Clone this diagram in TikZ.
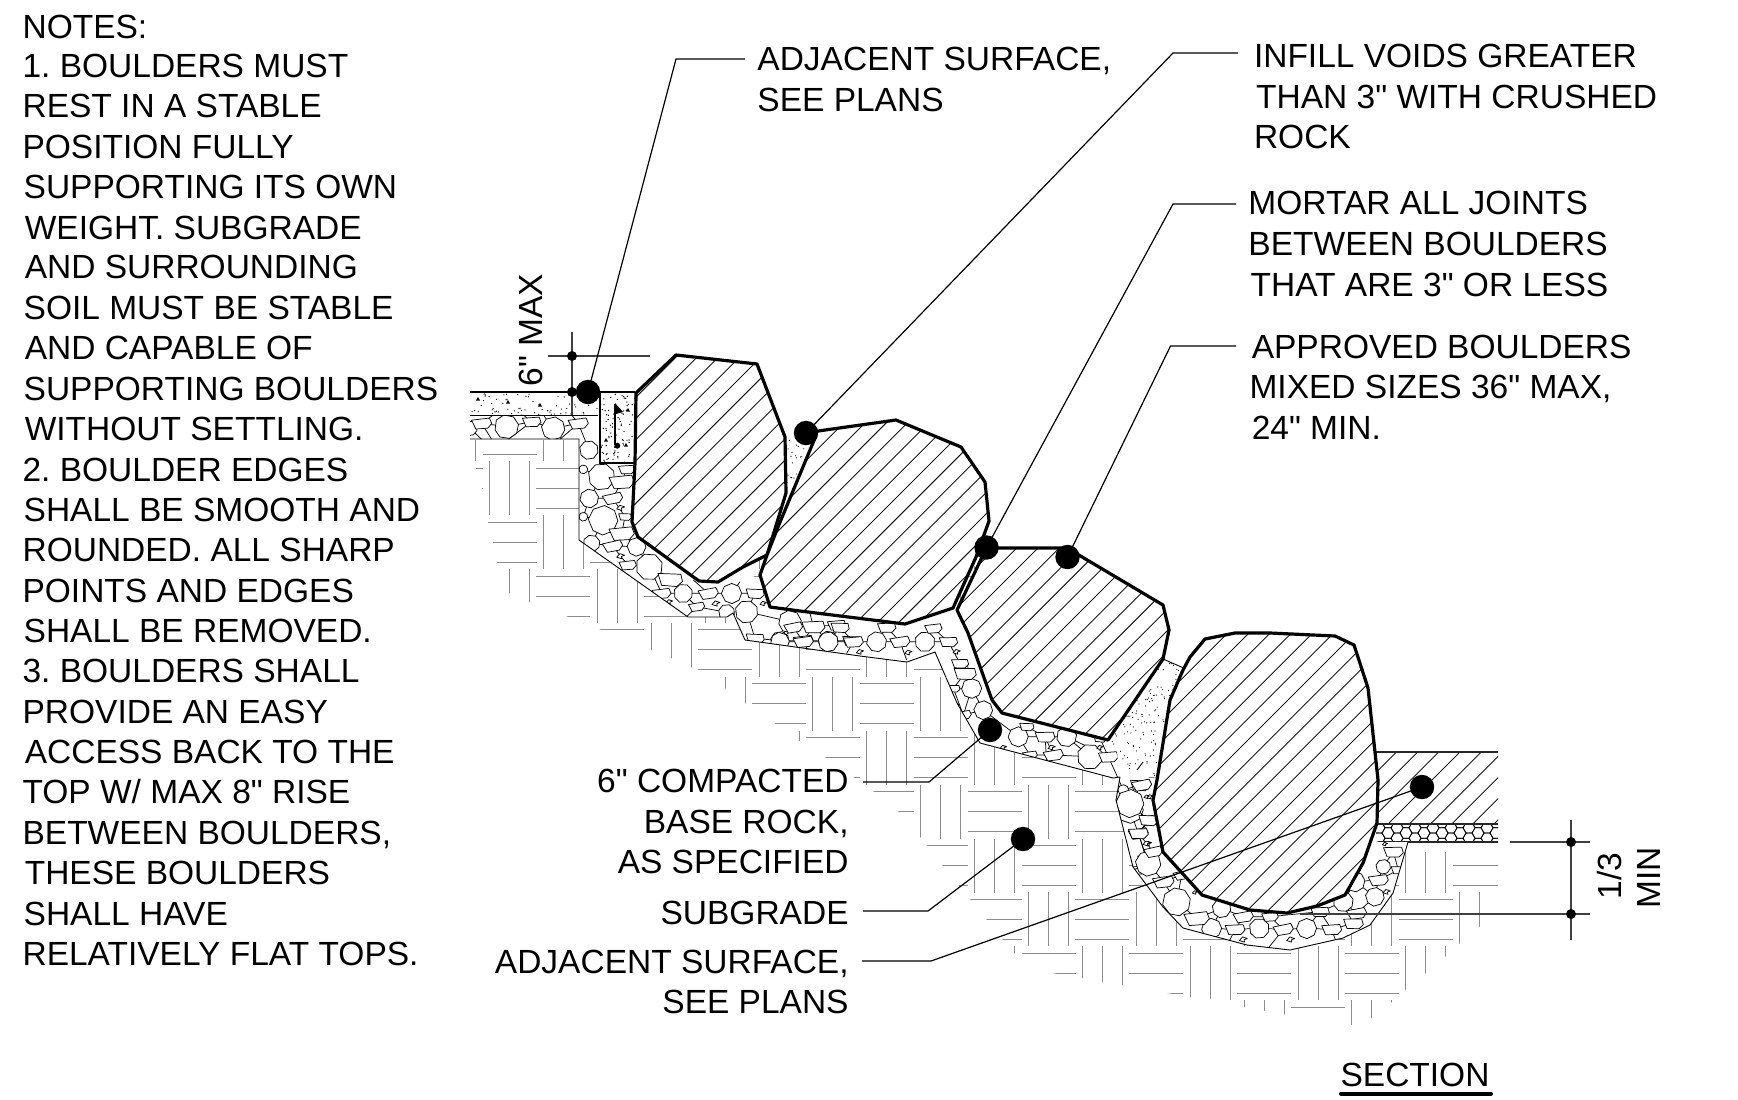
\documentclass[tikz,border=0pt]{standalone}
\usepackage{fontspec}
\newfontfamily\labf{Liberation Sans}
\newcommand\bAp{(636,393)--(676,355)--(757,364)--(785,437)--(786,493)--(767,555)--(743,567)--(718,582)--(699,581)--(638,537)--(632,522)--(635,463)--cycle}
\newcommand\bBp{(811,432)--(896,420)--(961,447)--(985,482)--(989,521)--(976,557)--(953,608)--(905,624)--(800,611)--(770,607)--(760,575)--(767,555)--(778,527)--(815,438)--cycle}
\newcommand\bCp{(986,548)--(1067,548)--(1163,605)--(1169,630)--(1163,659)--(1108,740)--(1002,713)--(992,700)--(968,633)--(957,610)--(983,555)--cycle}
\newcommand\bDp{(1205,639)--(1235,633)--(1270,633)--(1335,636)--(1354,645)--(1368,688)--(1378,780)--(1377,823)--(1363,863)--(1345,895)--(1317,906)--(1287,913)--(1250,910)--(1202,895)--(1163,852)--(1153,800)--(1157,780)--(1170,700)--(1183,670)--(1190,657)--cycle}
\newcommand\gvOuter{(470,439)--(579,439)--(579,540)--(688,617)--(727,617)--(733,613)--(745,640)--(860,656)--(907,662)--(935,652)--(957,703)--(980,743)--(1113,778)--(1120,777)--(1116,800)--(1133,867)--(1163,907)--(1183,928)--(1247,945)--(1290,950)--(1343,938)--(1370,925)--(1393,893)--(1408,842)}
\newcommand\gvFull{\gvOuter--(1378,842)--(1300,800)--(1160,790)--(1110,735)--(1010,710)--(965,620)--(900,560)--(770,600)--(700,500)--(640,470)--(635,463)--(600,463)--(598,415)--(470,415)--cycle}
\newcommand\mortarp{(1163,659)--(1186,669)--(1172,693)--(1170,710)--(1155,778)--(1143,762)--(1120,777)--(1117,752)--(1108,740)--cycle}
\newcommand\wedgep{(785,438)--(806,436)--(813,447)--(787,515)--cycle}
\newcommand\stripp{(983,555)--(989,552)--(960,611)--(956,608)--cycle}
\newcommand\bldrdraw[2]{%
  \fill[white] #1;
  \begin{scope}\clip #1;
    \foreach \k in {-75,...,75}{\pgfmathsetmacro\hv{#2+21.2*\k}\draw[hatchline] (\hv,0)--(0,\hv);}
  \end{scope}
  \draw[bldr] #1;}
\newcommand\cR[3]{\draw[cob,shift={(#1,#2)},rotate={mod(#1+#2,60)},scale=#3] (1,0)--(.72,.68)--(.05,1)--(-.7,.75)--(-1,.1)--(-.75,-.7)--(-.05,-1)--(.7,-.7)--cycle;}
\newcommand\cF[3]{\draw[cob,shift={(#1,#2)},rotate={mod(#1,17)-8},scale=#3] (-1,-.35)--(.8,-.5)--(1,.05)--(.6,.5)--(-.6,.55)--cycle;}
\newcommand\cT[3]{\draw[cob,shift={(#1,#2)},scale=#3] (-1,.3)--(-.2,-.6)--(1,-.2)--(.2,.1)--(.3,.7)--cycle;}
\newcommand\stip[6]{\foreach \k in {1,...,#1}{\fill[black] ({#2+rnd*#4},{#3+rnd*#5}) circle[radius=#6];}}
\newcommand\tri[2]{\fill[black] (#1-2,#2+1.5)--(#1,#2-2)--(#1+2,#2+1.5)--cycle;}
\tikzset{
  lab/.style={font=\labf\fontsize{16.75}{20}\selectfont\frenchspacing,inner sep=0pt,text=black},
  dotbig/.style={circle,fill=black,inner sep=0pt,minimum size=12.2pt},
  dotsmall/.style={circle,fill=black,inner sep=0pt,minimum size=5pt},
  leader/.style={draw=black,line width=.6pt},
  dimline/.style={draw=black!75,line width=.55pt},
  tile/.style={draw=black!45,line width=.5pt},
  hatchline/.style={draw=black!90,line width=.45pt},
  bldr/.style={draw=black,line width=1.6pt,line join=round},
  cob/.style={draw=black,line width=.36pt,fill=white,line join=round},
  web/.style={draw=black,line width=.36pt,line join=round},
  edge/.style={draw=black,line width=.45pt},
  heavy/.style={draw=black!85,line width=.7pt},
}
\begin{document}
\begin{tikzpicture}[x=.5pt,y=-.5pt]
\useasboundingbox (0,0) rectangle (1738,1099);
\fill[white] (0,0) rectangle (1738,1099);
% subgrade basket weave
\begin{scope}
\clip (474,440)--(474,462)--(476,468)--(482,488)--(488,522)--(493,542)--(497,562)--(509,593)--(529,602)--(566,616)--(583,623)--(599,629)--(651,650)--(671,658)--(691,667)--(699,670)--(725,688)--(745,703)--(776,724)--(798,740)--(825,757)--(873,791)--(899,812)--(927,845)--(943,866)--(970,899)--(987,920)--(1003,940)--(1014,953)--(1052,973)--(1082,978)--(1102,982)--(1122,985)--(1167,993)--(1190,997)--(1230,1000)--(1243,1007)--(1283,1014)--(1352,1025)--(1372,1018)--(1392,1002)--(1405,990)--(1426,973)--(1446,956)--(1459,944)--(1479,927)--(1498,910)--(1498,852)--(1405,852)--(1370,845)--(1360,760)--(1300,700)--(1180,700)--(1160,640)--(1050,600)--(960,560)--(800,540)--(700,500)--(640,470)--(600,440)--cycle;
\foreach \i in {-14,...,6}{\foreach \j in {-10,...,1}{
  \pgfmathsetmacro\cx{1156.3+53.9*\i}
  \pgfmathsetmacro\cy{973.3+53.9*\j}
  \pgfmathtruncatemacro\oddv{mod(\i+\j+100,2)}
  \ifnum\oddv=0
    \draw[tile] (\cx-27,\cy-20)--(\cx+27,\cy-20) (\cx-27,\cy)--(\cx+27,\cy) (\cx-27,\cy+20)--(\cx+27,\cy+20);
  \else
    \draw[tile] (\cx-20,\cy-27)--(\cx-20,\cy+27) (\cx,\cy-27)--(\cx,\cy+27) (\cx+20,\cy-27)--(\cx+20,\cy+27);
  \fi
}}
\end{scope}
% right adjacent surface
\begin{scope}
\clip (1376,752) rectangle (1498,824);
\foreach \k in {-20,...,20}{\pgfmathsetmacro\hv{2148.4+21.2*\k}\draw[hatchline] (\hv,0)--(0,\hv);}
\end{scope}
\begin{scope}
\clip (1376,824) rectangle (1498,842);
\foreach \ha in {0,...,14}{\foreach \hb in {0,...,2}{
  \pgfmathsetmacro\px{1379+9*\ha}
  \pgfmathtruncatemacro\pty{mod(\ha,2)}
  \pgfmathsetmacro\py{\pty==0 ? 827.8+10.4*\hb : 822.6+10.4*\hb}
  \draw[edge,line width=.38pt] (\px-6,\py)--(\px-3,\py-5.2)--(\px+3,\py-5.2)--(\px+6,\py)--(\px+3,\py+5.2)--(\px-3,\py+5.2)--cycle;
}}
\end{scope}
\draw[heavy] (1376,752)--(1498,752);
\draw[heavy] (1376,824)--(1498,824);
\draw[heavy] (1376,842)--(1498,842);
% gravel
\fill[white] \gvFull;
\begin{scope}
\clip \gvFull;
\begin{scope}[shift={(450,320)},scale=.33333]
\draw[web] (60,325)--(95,310)--(170,320)--(245,305)--(310,325)--(385,310)--(417,390) (95,310)--(130,285) (95,310)--(125,358) (245,305)--(220,285) (245,305)--(175,358) (385,310)--(365,285) (385,310)--(330,358) (60,325)--(95,358) (310,325)--(280,285);
\foreach \pa/\pb/\pc in {170/320/36,310/325/35,417/390/28,60/325/22}{\cR{\pa}{\pb}{\pc}}
\foreach \pa/\pb/\pc in {95/310/30,245/305/28,385/310/30}{\cF{\pa}{\pb}{\pc}}
\end{scope}
\begin{scope}[shift={(460,430)},scale=.33333]
\draw[web] (370,118)--(425,140)--(388,205)--(370,260)--(430,270)--(395,340)--(458,348)--(530,350)--(568,410)--(503,405)--(458,348)
 (425,140)--(485,155)--(500,118) (485,155)--(458,205)--(388,205) (458,205)--(495,260)--(485,310)--(430,270) (485,310)--(530,350)
 (568,410)--(630,448)--(670,490)--(605,490)--(568,410) (670,490)--(745,490)--(815,490)--(885,490)--(860,545)--(800,547)--(710,530)--(670,490)
 (815,490)--(840,455) (885,490)--(930,470) (745,490)--(700,450) (860,545)--(885,625)--(960,632)--(990,575)--(860,545) (990,575)--(1060,590)--(1130,585)
 (1030,632)--(960,632) (1030,632)--(1060,590) (1030,632)--(1105,632)--(1175,632) (1105,632)--(1060,590) (990,575)--(985,540) (1060,590)--(1050,550) (605,490)--(590,520) (710,530)--(680,560) (885,625)--(870,630);
\foreach \pa/\pb/\pc in {425/140/40,388/205/28,430/270/44,370/260/13,370/118/13,568/410/40,670/490/28,815/490/30,530/350/28,395/340/25,860/545/34,990/575/34,1105/632/29,960/632/28,800/547/24}{\cR{\pa}{\pb}{\pc}}
\foreach \pa/\pb/\pc in {458/205/30,485/155/38,500/118/25,495/260/20,485/310/38,458/348/30,503/405/26,745/490/30,885/490/28,605/490/28,630/448/38,1060/590/35,1030/632/30,1175/632/28,885/625/28,1130/585/28,710/530/24}{\cF{\pa}{\pb}{\pc}}
\foreach \pa/\pb/\pc in {482/233/12,482/378/12,768/520/12,910/520/10,628/515/10}{\cT{\pa}{\pb}{\pc}}
\end{scope}
\begin{scope}[shift={(760,620)},scale=.33333]
\draw[web] (60,65)--(130,65)--(205,65)--(280,65)--(350,65)--(420,65)--(495,65)--(565,65)--(600,130)--(635,205)--(610,285)--(670,270)--(635,205)
 (100,22)--(130,65) (100,22)--(60,65) (240,22)--(205,65) (240,22)--(280,65) (380,22)--(350,65) (380,22)--(420,65) (520,25)--(495,65) (520,25)--(565,65) (605,140)--(565,65) (580,205)--(635,205) (580,205)--(615,160) (610,285)--(580,205)
 (670,270)--(775,350)--(855,350)--(920,350)--(1045,410)--(990,410)--(880,405)--(810,405)--(775,350) (800,320)--(775,350) (800,320)--(855,350) (950,315)--(920,350) (950,315)--(1020,355) (1020,355)--(1045,410) (880,405)--(855,350) (990,410)--(920,350)
 (1045,410)--(1090,510)--(1140,495)--(1110,570)--(1090,510) (1110,570)--(1170,600)--(1135,640)--(1110,570) (1135,640)--(1160,720)--(1130,750) (130,65)--(150,100) (280,65)--(260,100) (420,65)--(440,120) (855,350)--(860,420) (205,65)--(180,100);
\foreach \pa/\pb/\pc in {60/65/28,205/65/30,350/65/30,495/65/30,635/205/30,670/270/28,775/350/30,920/350/30,990/410/38,1110/570/40,1090/510/16,605/140/20}{\cR{\pa}{\pb}{\pc}}
\foreach \pa/\pb/\pc in {130/65/30,280/65/30,420/65/30,565/65/28,600/130/26,615/160/34,580/205/20,610/285/24,855/350/30,880/405/30,1045/410/30,1140/495/30,1135/640/30,1170/600/28,1160/720/28,1130/750/24,100/22/28,240/22/28,380/22/28,520/25/26,800/320/22,950/315/22,1020/355/20,810/405/22}{\cF{\pa}{\pb}{\pc}}
\foreach \pa/\pb/\pc in {300/95/11,445/97/11,590/95/11,590/255/8,875/382/11,1020/382/10,730/382/10,1165/670/10,1170/530/10}{\cT{\pa}{\pb}{\pc}}
\end{scope}
\begin{scope}[shift={(1080,720)},scale=.33333]
\draw[web] (185,195)--(150,250)--(205,300)--(175,340)--(220,395)--(205,430)--(250,485)--(290,545)--(350,595)--(395,625)--(465,628)--(538,625)--(610,628)--(680,625)--(755,628)--(820,610)--(830,580)--(885,530)--(895,480)--(955,450)--(940,395)--(910,440)--(895,480)
 (305,465)--(290,545) (305,465)--(250,485) (350,595)--(425,565)--(395,625) (425,565)--(490,590)--(465,628) (490,590)--(570,590)--(538,625) (570,590)--(610,628) (570,590)--(720,575)--(680,625) (720,575)--(755,628) (720,575)--(790,545)--(830,580) (790,545)--(825,485)--(895,480) (825,485)--(885,530) (205,430)--(175,340) (150,250)--(110,240) (465,628)--(440,680) (610,628)--(560,690) (755,628)--(770,670) (290,545)--(250,590) (205,430)--(160,450);
\foreach \pa/\pb/\pc in {150/250/42,205/430/38,290/545/42,395/625/30,538/625/30,680/625/30,790/545/30,825/485/30,885/530/28,425/565/28,910/440/22}{\cR{\pa}{\pb}{\pc}}
\foreach \pa/\pb/\pc in {185/195/30,205/300/30,175/340/30,220/395/28,250/485/32,350/595/38,465/628/30,610/628/30,755/628/30,490/590/30,570/590/25,720/575/28,830/580/30,895/480/30,820/610/30,940/395/30,955/450/22,305/465/25}{\cF{\pa}{\pb}{\pc}}
\foreach \pa/\pb/\pc in {200/370/11,490/658/12,632/658/12,920/515/11,915/372/8,345/517/8,200/230/8}{\cT{\pa}{\pb}{\pc}}
\end{scope}
\end{scope}
\draw[edge] \gvOuter;
\draw[edge] (470,415)--(598,415);
% concrete and mortar
\pgfmathsetseed{17}
\begin{scope}
\clip (470,393) rectangle (600,415);
\stip{70}{470}{393}{130}{22}{.65}
\tri{478}{399}\tri{508}{402}\tri{540}{405}
\end{scope}
\fill[white] (600,392) rectangle (635,463);
\begin{scope}
\clip (600,392) rectangle (635,463);
\stip{90}{600}{392}{35}{71}{.7}
\tri{606}{440}\tri{628}{410}\tri{626}{445}
\end{scope}
\draw[black,line width=.55pt] (600,392)--(600,463)--(635,463);
\draw[black,line width=.7pt] (470,392)--(635,392);
\draw[black,line width=.9pt] (615,404)--(615,445);
\fill[black] (615,403)--(623,412)--(616,414)--cycle;
\fill[black] (617.3,445.7) circle[radius=3];
\fill[white] \mortarp;
\begin{scope}
\clip \mortarp;
\stip{240}{1108}{659}{78}{119}{.6}
\end{scope}
\draw[edge] (1163,659)--(1186,669);
\draw[edge] (1143,762)--(1137,770);
\fill[white] \wedgep;
\begin{scope}
\clip \wedgep;
\stip{50}{785}{436}{28}{79}{.6}
\end{scope}
\fill[white] \stripp;
\begin{scope}
\clip \stripp;
\stip{18}{955}{552}{34}{60}{.5}
\end{scope}
% boulders
\bldrdraw{\bAp}{1054.3}
\bldrdraw{\bBp}{1266.7}
\bldrdraw{\bCp}{1692}
\bldrdraw{\bDp}{1945.6}
% dimensions
\draw[dimline] (548,356)--(650,356);
\draw[dimline] (572,332)--(572,415);
\draw[dimline] (1300,914)--(1590,914);
\draw[dimline] (1510,842)--(1590,842);
\draw[dimline] (1571,820)--(1571,940);
\node[dotsmall] (ds1) at (572,356) {};
\node[dotsmall] (ds2) at (572,392) {};
\node[dotsmall] (ds3) at (1571,842) {};
\node[dotsmall] (ds4) at (1571,914) {};
% leader dots
\node[dotbig] (d1) at (588,392) {};
\node[dotbig] (d2) at (806,433) {};
\node[dotbig] (d3) at (986.5,547.5) {};
\node[dotbig] (d4) at (1067.5,557) {};
\node[dotbig] (d5) at (990,730) {};
\node[dotbig] (d6) at (1023,839) {};
\node[dotbig] (d7) at (1422,787) {};
\coordinate (e1) at (745,59);\coordinate (b1) at (676,59);
\coordinate (e2) at (1238,53);\coordinate (b2) at (1173,53);
\coordinate (e3) at (1236,204);\coordinate (b3) at (1173,204);
\coordinate (e4) at (1236,346);\coordinate (b4) at (1170.5,346);
\coordinate (e5) at (863,782);\coordinate (b5) at (929,782);
\coordinate (e6) at (863,911);\coordinate (b6) at (928,911);
\coordinate (e7) at (862,961);\coordinate (b7) at (931,961);
\foreach \n in {1,...,7}{\draw[leader] (d\n.center)--(b\n)--(e\n);}
% notes
\foreach \xa/\ya/\tx [count=\k] in {
20/24/{NOTES:},20/59/{1. BOULDERS MUST},20/95/{REST IN A STABLE},20/132/{POSITION FULLY},
21/168/{SUPPORTING ITS OWN},22/205/{WEIGHT. SUBGRADE},22/241/{AND SURROUNDING},21/278/{SOIL MUST BE STABLE},
22/314/{AND CAPABLE OF},21/351/{SUPPORTING BOULDERS},22/387/{WITHOUT SETTLING.},20/424/{2. BOULDER EDGES},
21/460/{SHALL BE SMOOTH AND},20/496/{ROUNDED. ALL SHARP},20/533/{POINTS AND EDGES},21/569/{SHALL BE REMOVED.},
20/605/{3. BOULDERS SHALL},20/642/{PROVIDE AN EASY},22/678/{ACCESS BACK TO THE},20/714/{TOP W/ MAX 8" RISE},
20/751/{BETWEEN BOULDERS,},22/787/{THESE BOULDERS},21/824/{SHALL HAVE},20/860/{RELATIVELY FLAT TOPS.},
683/53/{ADJACENT SURFACE,},683/90/{SEE PLANS},1131/50/{INFILL VOIDS GREATER},1133/87/{THAN 3" WITH CRUSHED},
1131/123/{ROCK},1126/183/{MORTAR ALL JOINTS},1126/220/{BETWEEN BOULDERS},1128/257/{THAT ARE 3" OR LESS},
1129/313/{APPROVED BOULDERS},1127/349/{MIXED SIZES 36" MAX,},1129/386/{24" MIN.}}
{\node[lab,anchor=base west] (t\k) at ({\xa*1.1084},{\ya*1.1084+11.8}) {\tx};}
\foreach \ya/\tx [count=\k] in {704/{6" COMPACTED},741/{BASE ROCK,},777/{AS SPECIFIED},823/{SUBGRADE},868/{ADJACENT SURFACE,},904/{SEE PLANS}}
{\node[lab,anchor=base east] (r\k) at (849,{\ya*1.1084+11.8}) {\tx};}
\node[lab,rotate=90] (v1) at (531,330) {6" MAX};
\node[lab,rotate=90] (v2) at (1609,876) {1/3};
\node[lab,rotate=90] (v3) at (1649,878) {MIN};
\node[lab,anchor=base] (sec) at (1415,1086.5) {SECTION};
\coordinate (su1) at (1341,1093.5);\coordinate (su2) at (1491,1093.5);
\draw[black,line width=2pt,line cap=round] (su1)--(su2);
\end{tikzpicture}
\end{document}
